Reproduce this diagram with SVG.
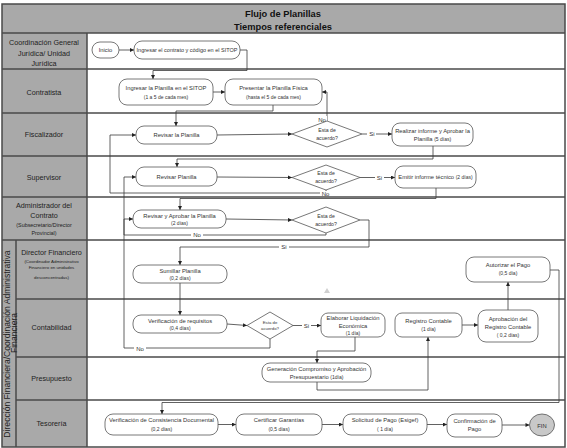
<svg xmlns="http://www.w3.org/2000/svg" width="567" height="448" viewBox="0 0 567 448">
<style>
text{font-family:"Liberation Sans",Arial,sans-serif;fill:#333;text-anchor:middle}
.title{font-size:9.3px;font-weight:bold;fill:#111}
.lane{font-size:7.2px;fill:#222}
.vert{font-size:8.6px;fill:#222}
.lsm{font-size:5.4px;fill:#222}
.lxs{font-size:4.4px;fill:#222}
.bx{font-size:5.8px}
.sm{font-size:5px}
.dt{font-size:5.2px}
.dxs{font-size:4.3px}
.lbl{font-size:6px}
.box{fill:#fff;stroke:#555;stroke-width:0.8}
.dia{fill:#fff;stroke:#555;stroke-width:0.8}
.con{fill:none;stroke:#3a3a3a;stroke-width:0.8}
.div{stroke:#4a4a4a;stroke-width:1.5}
</style>
<defs>
<marker id="ah" viewBox="0 0 10 10" refX="10" refY="5" markerWidth="5" markerHeight="4" markerUnits="userSpaceOnUse" orient="auto">
<path d="M0,0 L10,5 L0,10 z" fill="#222"/>
</marker>
</defs>
<g id="frame">
<rect x="2" y="4" width="563" height="443" fill="#fff"/>
<rect x="2" y="4" width="563" height="29" fill="#a9a9a9"/>
<rect x="2" y="33" width="85" height="414" fill="#a9a9a9"/>
<line class="div" x1="2" y1="33" x2="565" y2="33"/>
<line class="div" x1="2" y1="69" x2="565" y2="69"/>
<line class="div" x1="2" y1="113" x2="565" y2="113"/>
<line class="div" x1="2" y1="156" x2="565" y2="156"/>
<line class="div" x1="2" y1="197" x2="565" y2="197"/>
<line class="div" x1="2" y1="240" x2="565" y2="240"/>
<line class="div" x1="16" y1="299" x2="565" y2="299"/>
<line class="div" x1="16" y1="357" x2="565" y2="357"/>
<line class="div" x1="16" y1="400" x2="565" y2="400"/>
<line class="div" x1="16" y1="240" x2="16" y2="447"/>
<line class="div" x1="87" y1="33" x2="87" y2="447"/>
<rect x="2" y="4" width="563" height="443" fill="none" stroke="#4a4a4a" stroke-width="1.5"/>
<text class="title" x="283" y="17">Flujo de Planillas</text>
<text class="title" x="283" y="30">Tiempos referenciales</text>
</g>
<g id="lanes">
<text class="lane" x="44" y="45">Coordinación General</text>
<text class="lane" x="44" y="56">Jurídica/ Unidad</text>
<text class="lane" x="44" y="66">Jurídica</text>
<text class="lane" x="44" y="95">Contratista</text>
<text class="lane" x="44" y="137">Fiscalizador</text>
<text class="lane" x="44" y="179.5">Supervisor</text>
<text class="lane" x="44" y="207.5">Administrador del</text>
<text class="lane" x="44" y="217.5">Contrato</text>
<text class="lsm" x="44" y="226.5">(Subsecretario/Director</text>
<text class="lsm" x="44" y="235">Provincial)</text>
<text class="lane" x="51.5" y="255">Director Financiero</text>
<text class="lxs" x="51.5" y="263">(Coordinador Administrativo</text>
<text class="lxs" x="51.5" y="269">Financiero en unidades</text>
<text class="lxs" x="51.5" y="278.5">desconcentradas)</text>
<text class="lane" x="51.5" y="330">Contabilidad</text>
<text class="lane" x="51.5" y="381">Presupuesto</text>
<text class="lane" x="51.5" y="426">Tesorería</text>
<text class="vert" transform="translate(9.5,344) rotate(-90)">Dirección Financiera/Coordinación Administrativa</text>
<text class="vert" transform="translate(17,333) rotate(-90)">Financiera</text>
</g>
<g id="connectors">
<polyline class="con" points="119,50 134,50" marker-end="url(#ah)"/>
<polyline class="con" points="240,50 247,50 247,70.5 153,70.5 153,79" marker-end="url(#ah)"/>
<polyline class="con" points="213,92 225,92" marker-end="url(#ah)"/>
<polyline class="con" points="273,105 273,111 176,111 176,126" marker-end="url(#ah)"/>
<polyline class="con" points="217,135 292,134" marker-end="url(#ah)"/>
<polyline class="con" points="362,134 392,134" marker-end="url(#ah)"/>
<polyline class="con" points="327,121 327,92 322,92" marker-end="url(#ah)"/>
<polyline class="con" points="433,146 433,159 177,159 177,167" marker-end="url(#ah)"/>
<polyline class="con" points="217,177 292,177.5" marker-end="url(#ah)"/>
<polyline class="con" points="360,177.5 395,177.5" marker-end="url(#ah)"/>
<polyline class="con" points="326,190 326,193 110,193 110,135 136,135" marker-end="url(#ah)"/>
<polyline class="con" points="436,188 436,198.5 180,198.5 180,210" marker-end="url(#ah)"/>
<polyline class="con" points="226,219 292,220" marker-end="url(#ah)"/>
<polyline class="con" points="360,220 369,220 369,247 180,247 180,265" marker-end="url(#ah)"/>
<polyline class="con" points="326,233 326,235 124,235 124,177 136,177" marker-end="url(#ah)"/>
<polyline class="con" points="180,283 180,315" marker-end="url(#ah)"/>
<polyline class="con" points="227,324 247,325.5" marker-end="url(#ah)"/>
<polyline class="con" points="293,325.5 321,325.5" marker-end="url(#ah)"/>
<polyline class="con" points="270,339 270,348 124,348 124,219 133,219" marker-end="url(#ah)"/>
<polyline class="con" points="355,337 355,351 317,351 317,363" marker-end="url(#ah)"/>
<polyline class="con" points="317,382 317,390 428,390 428,337" marker-end="url(#ah)"/>
<polyline class="con" points="462,325 478,325" marker-end="url(#ah)"/>
<polyline class="con" points="508,310 508,282" marker-end="url(#ah)"/>
<polyline class="con" points="550,270 559,270 559,402.5 162,402.5 162,414" marker-end="url(#ah)"/>
<polyline class="con" points="218,424.5 236,424.5" marker-end="url(#ah)"/>
<polyline class="con" points="322,424.5 343,424.5" marker-end="url(#ah)"/>
<polyline class="con" points="427,424.5 447,424.5" marker-end="url(#ah)"/>
<polyline class="con" points="502,425 529.5,425" marker-end="url(#ah)"/>
<rect x="318" y="116" width="9" height="7" fill="#fff"/>
<text class="lbl" x="322" y="122">No</text>
<rect x="367" y="131" width="9" height="6" fill="#fff"/>
<text class="lbl" x="372" y="136">Si</text>
<rect x="375" y="174" width="9" height="6" fill="#fff"/>
<text class="lbl" x="379.5" y="179.5">Si</text>
<rect x="320" y="191" width="11" height="5" fill="#fff"/>
<text class="lbl" x="325.5" y="195.5">No</text>
<rect x="191" y="232" width="12" height="6" fill="#fff"/>
<text class="lbl" x="197" y="237">No</text>
<rect x="279" y="244" width="10" height="6" fill="#fff"/>
<text class="lbl" x="284" y="249">Si</text>
<rect x="302" y="322" width="9" height="6" fill="#fff"/>
<text class="lbl" x="306.5" y="327.5">Si</text>
<rect x="134" y="345" width="12" height="6" fill="#fff"/>
<text class="lbl" x="140" y="350.5">No</text>
<path d="M327,288 L330,293 L324,293 z" fill="#d0d0d0"/>
</g>
<g id="n_inicio"><rect class="box" x="92" y="42" width="27" height="16" rx="8"/><text class="bx" x="105.5" y="52">Inicio</text></g>
<g id="n_ingresar_contrato"><rect class="box" x="134" y="41" width="106" height="18" rx="8"/><text class="bx" style="font-size:5.5px" x="187" y="52">Ingresar el contrato y código  en el SITOP</text></g>
<g id="n_ingresar_planilla"><rect class="box" x="119" y="79" width="94" height="26" rx="8"/><text class="bx" x="166" y="90">Ingresar la Planilla en el SITOP</text><text class="sm" x="166" y="98.5">(1 a 5 de cada mes)</text></g>
<g id="n_presentar"><rect class="box" x="225" y="79" width="97" height="26" rx="8"/><text class="bx" x="273.5" y="90">Presentar la Planilla Física</text><text class="sm" x="273.5" y="98.5">(hasta el 5 de cada mes)</text></g>
<g id="n_revisar_fisc"><rect class="box" x="136" y="126" width="81" height="18" rx="8"/><text class="bx" x="176.5" y="137">Revisar la Planilla</text></g>
<g id="d_fisc"><polygon class="dia" points="292,134 327,121 362,134 327,147"/><text class="dt" x="327" y="132">Esta de</text><text class="dt" x="327" y="140">acuerdo?</text></g>
<g id="n_realizar"><rect class="box" x="392" y="123" width="81" height="23" rx="8"/><text class="bx" x="432.5" y="132.5">Realizar informe y Aprobar la</text><text class="bx" x="432.5" y="141">Planilla  <tspan class="sm">(5 días)</tspan></text></g>
<g id="n_revisar_sup"><rect class="box" x="136" y="167" width="81" height="19" rx="8"/><text class="bx" x="176.5" y="178.5">Revisar Planilla</text></g>
<g id="d_sup"><polygon class="dia" points="292,177.5 326,165 360,177.5 326,190"/><text class="dt" x="326" y="175">Esta de</text><text class="dt" x="326" y="183">acuerdo?</text></g>
<g id="n_emitir"><rect class="box" x="395" y="166" width="81" height="22" rx="8"/><text class="bx" x="435.5" y="179">Emitir  informe técnico <tspan class="sm">(2 días)</tspan></text></g>
<g id="n_revisar_aprobar"><rect class="box" x="133" y="210" width="93" height="18" rx="8"/><text class="bx" x="179.5" y="217.5">Revisar y Aprobar la Planilla</text><text class="sm" x="179.5" y="225">(2 días)</text></g>
<g id="d_admin"><polygon class="dia" points="292,220 326,207 360,220 326,233"/><text class="dt" x="326" y="218">Esta de</text><text class="dt" x="326" y="226">acuerdo?</text></g>
<g id="n_sumillar"><rect class="box" x="133" y="265" width="94" height="18" rx="8"/><text class="bx" x="180" y="272.5">Sumillar Planilla</text><text class="sm" x="180" y="280">(0,2 días)</text></g>
<g id="n_autorizar"><rect class="box" x="466" y="257" width="84" height="25" rx="8"/><text class="bx" x="508" y="266.5">Autorizar el Pago</text><text class="sm" x="508" y="275">(0,5 día)</text></g>
<g id="n_verif_req"><rect class="box" x="133" y="315" width="94" height="18" rx="8"/><text class="bx" x="180" y="322.5">Verificación de requisitos</text><text class="sm" x="180" y="330">(0,4 días)</text></g>
<g id="d_conta"><polygon class="dia" points="247,325.5 270,312 293,325.5 270,339"/><text class="dxs" x="270" y="324">Esta de</text><text class="dxs" x="270" y="330">acuerdo?</text></g>
<g id="n_elaborar"><rect class="box" x="321" y="313" width="64" height="24" rx="7"/><text class="bx" x="353" y="319.5">Elaborar Liquidación</text><text class="bx" x="353" y="327.5">Económica</text><text class="sm" x="353" y="335">(1 día)</text></g>
<g id="n_registro"><rect class="box" x="395" y="313" width="67" height="24" rx="7"/><text class="bx" x="428.5" y="322.5">Registro Contable</text><text class="sm" x="428.5" y="330.5">(1 día)</text></g>
<g id="n_aprobacion"><rect class="box" x="478" y="310" width="60" height="32" rx="8"/><text class="bx" x="508" y="320.5">Aprobación del</text><text class="bx" x="508" y="329">Registro Contable</text><text class="sm" x="508" y="336.5">( 0,2 días)</text></g>
<g id="n_generacion"><rect class="box" x="262" y="363" width="109" height="19" rx="8"/><text class="bx" x="316.5" y="371">Generación Compromiso y Aprobación</text><text class="bx" x="316.5" y="378.5">Presupuestario <tspan class="sm">(1día)</tspan></text></g>
<g id="n_verif_cons"><rect class="box" x="105" y="414" width="113" height="21" rx="8"/><text class="bx" x="161.5" y="422">Verificación de Consistencia Documental</text><text class="sm" x="161.5" y="430.5">(0,2 días)</text></g>
<g id="n_certificar"><rect class="box" x="236" y="414" width="86" height="21" rx="8"/><text class="bx" x="279" y="422">Certificar Garantías</text><text class="sm" x="279" y="430.5">(0,5 días)</text></g>
<g id="n_solicitud"><rect class="box" x="343" y="414" width="84" height="21" rx="8"/><text class="bx" x="385" y="422">Solicitud de Pago (Esigef)</text><text class="sm" x="385" y="430.5">( 1 día)</text></g>
<g id="n_confirmacion"><rect class="box" x="447" y="414" width="55" height="23" rx="8"/><text class="bx" x="474.5" y="422.5">Confirmación de</text><text class="bx" x="474.5" y="431">Pago</text></g>
<g id="n_fin"><ellipse cx="542" cy="425" rx="12.5" ry="11" fill="#c8c8c8" stroke="#555" stroke-width="0.8"/><text class="bx" x="542" y="427.5">FIN</text></g>
</svg>
